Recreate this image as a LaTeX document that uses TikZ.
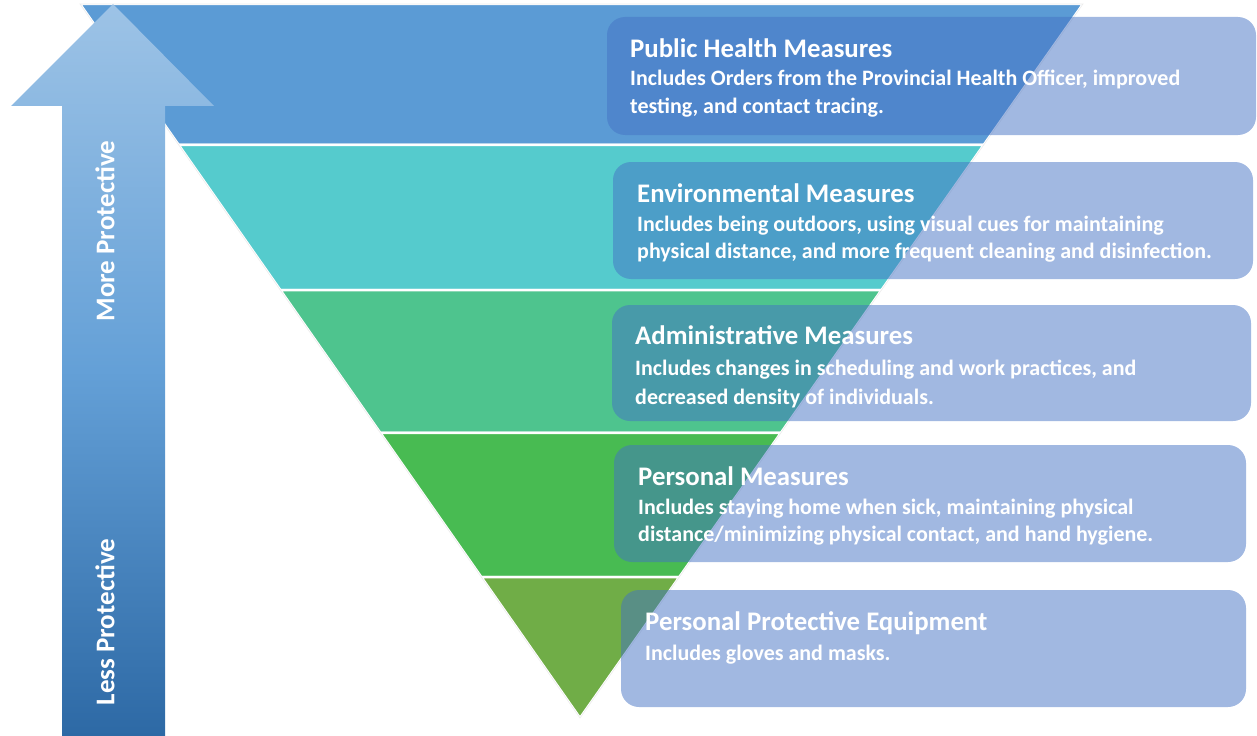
\documentclass[tikz,border=0pt]{standalone}
\usepackage{fontspec}
\setmainfont{Carlito}
\usetikzlibrary{calc}
\definecolor{bandA}{RGB}{91,155,213}
\definecolor{bandB}{RGB}{85,203,205}
\definecolor{bandC}{RGB}{78,196,142}
\definecolor{bandD}{RGB}{72,187,82}
\definecolor{bandE}{RGB}{112,173,71}
\definecolor{boxblue}{RGB}{68,114,196}
\definecolor{arrowtop}{RGB}{157,195,230}
\definecolor{arrowmid}{RGB}{100,160,215}
\definecolor{arrowbot}{RGB}{45,105,165}
\tikzset{
  band/.style={fill=#1, draw=white, line width=2.5bp, line join=miter},
  infobox/.style={fill=boxblue, fill opacity=0.5, draw=none, rounded corners=18bp},
  titletext/.style={anchor=base west, inner sep=0pt, text=white, font=\fontsize{26.8bp}{32bp}\selectfont\bfseries},
  bodytext/.style={anchor=base west, inner sep=0pt, text=white, font=\fontsize{22bp}{26bp}\selectfont\bfseries},
  sidetext/.style={rotate=90, inner sep=0pt, text=white, font=\fontsize{27bp}{32bp}\selectfont\bfseries},
}
\begin{document}
\begin{tikzpicture}[x=1bp, y=-1bp]
\useasboundingbox (0,0) rectangle (1257,736);
% triangle corners
\coordinate (TL) at (80,4);
\coordinate (TR) at (1083,4);
\coordinate (A) at (580,718);
\coordinate (L1) at ($(TL)!{141/714}!(A)$);
\coordinate (R1) at ($(TR)!{141/714}!(A)$);
\coordinate (L2) at ($(TL)!{286/714}!(A)$);
\coordinate (R2) at ($(TR)!{286/714}!(A)$);
\coordinate (L3) at ($(TL)!{429/714}!(A)$);
\coordinate (R3) at ($(TR)!{429/714}!(A)$);
\coordinate (L4) at ($(TL)!{573/714}!(A)$);
\coordinate (R4) at ($(TR)!{573/714}!(A)$);
% bands
\path[band=bandA] (TL) -- (TR) -- (R1) -- (L1) -- cycle;
\path[band=bandB] (L1) -- (R1) -- (R2) -- (L2) -- cycle;
\path[band=bandC] (L2) -- (R2) -- (R3) -- (L3) -- cycle;
\path[band=bandD] (L3) -- (R3) -- (R4) -- (L4) -- cycle;
\path[band=bandE] (L4) -- (R4) -- (A) -- cycle;
\draw[white!85!gray, line width=0.6bp] (TL) -- (TR) -- (A) -- cycle;
% arrow
\path[top color=arrowtop, bottom color=arrowbot, middle color=arrowmid]
  (62,736) -- (62,106) -- (11,106) -- (113,4) -- (214,106) -- (165,106) -- (165,736) -- cycle;
\node[sidetext] (more) at (105,231) {More Protective};
\node[sidetext] (less) at (105,622) {Less Protective};
% boxes
\path[infobox] (607,17) rectangle (1256,135);
\path[infobox] (613,162) rectangle (1253,279);
\path[infobox] (612,305) rectangle (1251,421);
\path[infobox] (614,445) rectangle (1246,562);
\path[infobox] (621,590) rectangle (1246,707);
% texts
\node[titletext] (t1) at (630,58) {Public Health Measures};
\node[bodytext] (b1a) at (630,86) {Includes Orders from the Provincial Health Officer, improved};
\node[bodytext] (b1b) at (630,114) {testing, and contact tracing.};
\node[titletext] (t2) at (637,202) {Environmental Measures};
\node[bodytext] (b2a) at (637,231) {Includes being outdoors, using visual cues for maintaining};
\node[bodytext] (b2b) at (637,258) {physical distance, and more frequent cleaning and disinfection.};
\node[titletext] (t3) at (635,344) {Administrative Measures};
\node[bodytext] (b3a) at (635,375) {Includes changes in scheduling and work practices, and};
\node[bodytext] (b3b) at (635,404) {decreased density of individuals.};
\node[titletext] (t4) at (638,485) {Personal Measures};
\node[bodytext] (b4a) at (638,514) {Includes staying home when sick, maintaining physical};
\node[bodytext] (b4b) at (638,541) {distance/minimizing physical contact, and hand hygiene.};
\node[titletext] (t5) at (645,630) {Personal Protective Equipment};
\node[bodytext] (b5a) at (645,660) {Includes gloves and masks.};
\end{tikzpicture}
\end{document}
